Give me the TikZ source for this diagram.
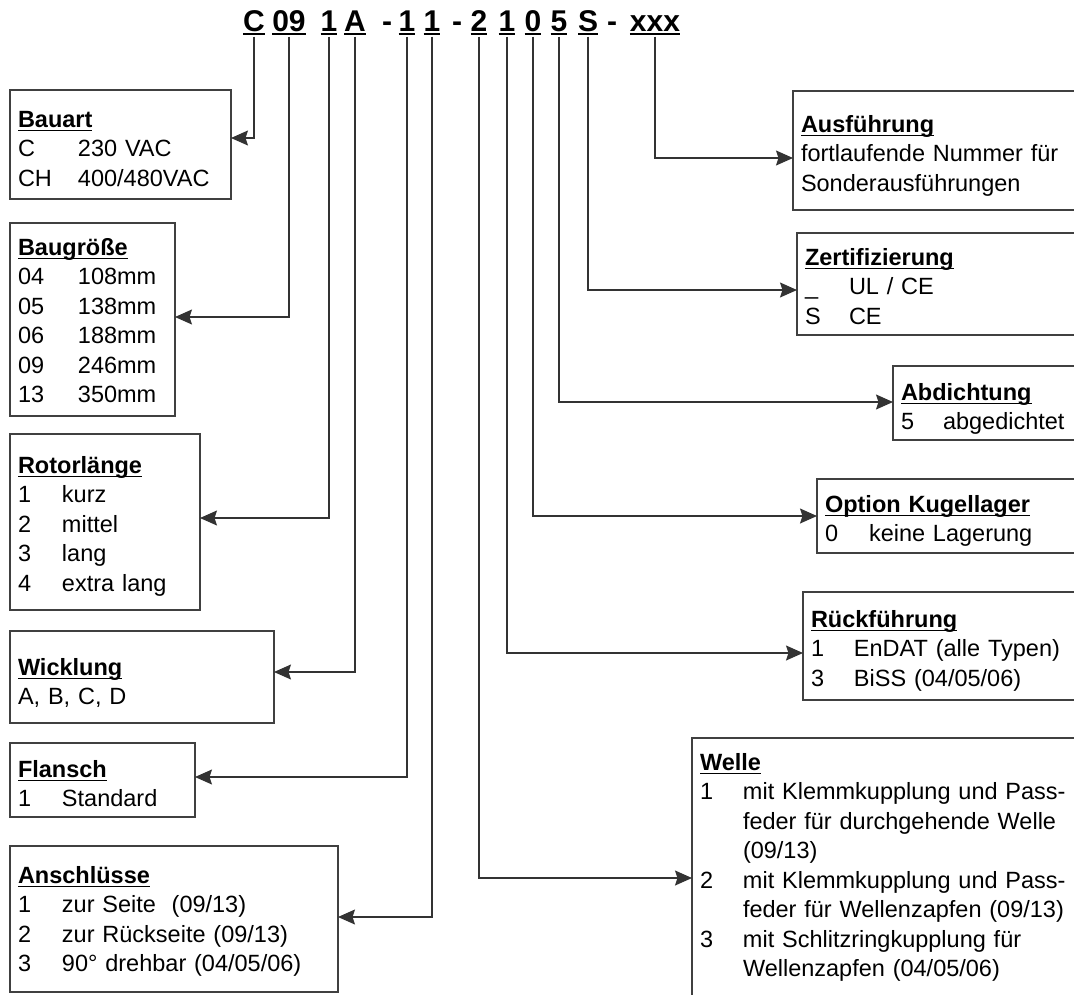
\documentclass[tikz,border=0pt]{standalone}
\usepackage{fontspec}
\setmainfont{Liberation Sans}
\usetikzlibrary{arrows.meta}

\newsavebox\ulbox
\newcommand\ttl[1]{\sbox\ulbox{\bfseries #1}\usebox\ulbox\llap{\rule[-4pt]{\wd\ulbox}{1.5pt}}}
\newcommand\hdc[1]{\sbox\ulbox{\bfseries #1}\usebox\ulbox\llap{\rule[-3.5pt]{\wd\ulbox}{2pt}}}
\newcommand\itm[3][44pt]{\makebox[#1][l]{#2}#3}
\newcommand\pad[3]{\rule{0pt}{#1}#3\rule[-#2]{0pt}{#2}}

\tikzset{
  codechar/.style={font=\fontsize{30}{30}\selectfont, inner sep=0pt, outer sep=0pt, outer ysep=1.5pt, anchor=base},
  keybox/.style={draw=black!75, line width=1.3pt, anchor=north west, inner xsep=8pt, inner ysep=0pt, outer sep=0pt, align=left, font=\fontsize{23.5}{29.5}\selectfont},
  leader/.style={draw=black!80, line width=1.4pt, -{Stealth[length=17pt,width=15pt,inset=2.5pt]}}
}

\begin{document}
\begin{tikzpicture}[x=1pt, y=-1pt]

    \useasboundingbox (0,0) rectangle (1074,994);
    \clip (0,0) rectangle (1074,994);

    % type code
    \node[codechar] (kC)   at (254,31.7) {\hdc{C}};
    \node[codechar] (k09)  at (289,31.7) {\hdc{09}};
    \node[codechar] (kR)   at (329,31.7) {\hdc{1}};
    \node[codechar] (kA)   at (355,31.7) {\hdc{A}};
    \node[codechar] (dash1) at (387,31.7) {\bfseries -};
    \node[codechar] (kF)   at (407,31.7) {\hdc{1}};
    \node[codechar] (kN)   at (432,31.7) {\hdc{1}};
    \node[codechar] (dash2) at (457,31.7) {\bfseries -};
    \node[codechar] (kW)   at (479,31.7) {\hdc{2}};
    \node[codechar] (kFb)  at (507,31.7) {\hdc{1}};
    \node[codechar] (kK)   at (533,31.7) {\hdc{0}};
    \node[codechar] (kD)   at (559,31.7) {\hdc{5}};
    \node[codechar] (kS)   at (588,31.7) {\hdc{S}};
    \node[codechar] (dash3) at (612,31.7) {\bfseries -};
    \node[codechar] (kX)   at (655,31.7) {\hdc{xxx}};

    % left column
    \node[keybox, text width=205pt] (bauart) at (10,90)
      {\pad{37pt}{13pt}{\ttl{Bauart}\\ \itm[60pt]{C}{230 VAC}\\ \itm[60pt]{CH}{400/480VAC}}};
    \node[keybox, text width=149pt] (groesse) at (10,223)
      {\pad{32pt}{13.5pt}{\ttl{Baugröße}\\ \itm[60pt]{04}{108mm}\\ \itm[60pt]{05}{138mm}\\
       \itm[60pt]{06}{188mm}\\ \itm[60pt]{09}{246mm}\\ \itm[60pt]{13}{350mm}}};
    \node[keybox, text width=174pt] (rotor) at (10,434)
      {\pad{39pt}{19pt}{\ttl{Rotorlänge}\\ \itm{1}{kurz}\\ \itm{2}{mittel}\\ \itm{3}{lang}\\ \itm{4}{extra lang}}};
    \node[keybox, text width=248pt] (wicklung) at (10,631)
      {\pad{44pt}{18.5pt}{\ttl{Wicklung}\\ A, B, C, D}};
    \node[keybox, text width=169pt] (flansch) at (10,743)
      {\pad{34pt}{10.5pt}{\ttl{Flansch}\\ \itm{1}{Standard}}};
    \node[keybox, text width=312pt] (anschluss) at (10,846)
      {\pad{37pt}{20.5pt}{\ttl{Anschlüsse}\\ \itm{1}{zur Seite \ (09/13)}\\ \itm{2}{zur Rückseite (09/13)}\\
       \itm{3}{90° drehbar (04/05/06)}}};

    % right column
    \node[keybox, text width=286pt] (ausf) at (793,91)
      {\pad{41pt}{19pt}{\ttl{Ausführung}\\ fortlaufende Nummer für\\ Sonderausführungen}};
    \node[keybox, text width=282pt] (zert) at (797,233)
      {\pad{32pt}{11pt}{\ttl{Zertifizierung}\\ \itm{\_}{UL / CE}\\ \itm{S}{CE}}};
    \node[keybox, text width=186pt] (abdicht) at (893,366)
      {\pad{34pt}{10.5pt}{\ttl{Abdichtung}\\ \itm[42pt]{5}{abgedichtet}}};
    \node[keybox, text width=262pt] (lager) at (817,479)
      {\pad{33pt}{11.5pt}{\ttl{Option Kugellager}\\ \itm{0}{keine Lagerung}}};
    \node[keybox, text width=276pt] (rueck) at (803,592)
      {\pad{35pt}{14pt}{\ttl{Rückführung}\\ \itm[43pt]{1}{EnDAT (alle Typen)}\\ \itm[43pt]{3}{BiSS (04/05/06)}}};
    \node[keybox, text width=387pt] (welle) at (692,738)
      {\pad{32pt}{30pt}{\ttl{Welle}\\ \itm[43pt]{1}{mit Klemmkupplung und Pass-}\\ \itm[43pt]{}{feder für durchgehende Welle}\\
       \itm[43pt]{}{(09/13)}\\ \itm[43pt]{2}{mit Klemmkupplung und Pass-}\\ \itm[43pt]{}{feder für Wellenzapfen (09/13)}\\
       \itm[43pt]{3}{mit Schlitzringkupplung für}\\ \itm[43pt]{}{Wellenzapfen (04/05/06)}}};

    % leaders
    \draw[leader] (kC.south)  |- ([yshift=-48pt]bauart.north east);
    \draw[leader] (k09.south) |- ([yshift=-94pt]groesse.north east);
    \draw[leader] (kR.south)  |- ([yshift=-84pt]rotor.north east);
    \draw[leader] (kA.south)  |- ([yshift=-41pt]wicklung.north east);
    \draw[leader] (kF.south)  |- ([yshift=-34pt]flansch.north east);
    \draw[leader] (kN.south)  |- ([yshift=-71pt]anschluss.north east);
    \draw[leader] (kW.south)  |- ([yshift=-140pt]welle.north west);
    \draw[leader] (kFb.south) |- ([yshift=-61pt]rueck.north west);
    \draw[leader] (kK.south)  |- ([yshift=-37pt]lager.north west);
    \draw[leader] (kD.south)  |- ([yshift=-36pt]abdicht.north west);
    \draw[leader] (kS.south)  |- ([yshift=-57pt]zert.north west);
    \draw[leader] (kX.south)  |- ([yshift=-67pt]ausf.north west);

\end{tikzpicture}
\end{document}
